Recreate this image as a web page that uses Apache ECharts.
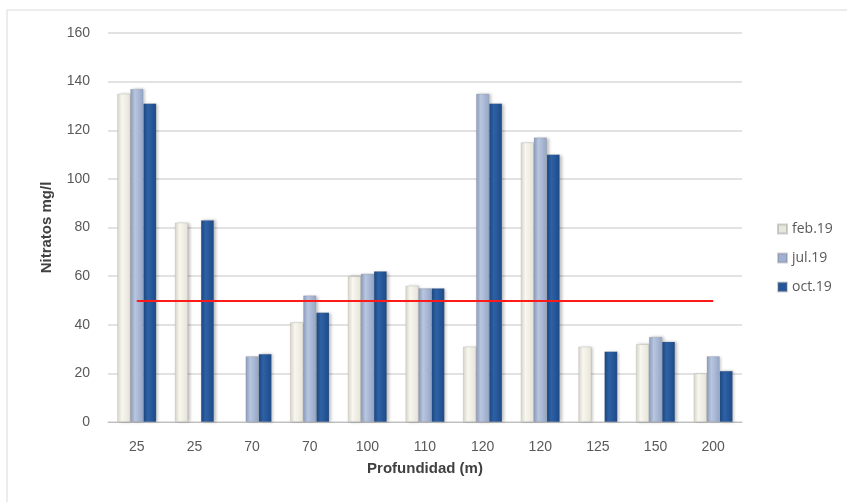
<!DOCTYPE html>
<html><head><meta charset="utf-8">
<script src="https://cdn.jsdelivr.net/npm/echarts@6/dist/echarts.min.js"></script>
<style>html,body{margin:0;padding:0;background:#fff}#c{width:847px;height:502px}</style>
</head><body><div id="c"></div>
<script>
const categories = ['25','25','70','70','100','110','120','120','125','150','200'];
const feb19 = [135, 82, null, 41, 60, 56, 31, 115, 31, 32, 20];
const jul19 = [137, null, 27, 52, 61, 55, 135, 117, null, 35, 27];
const oct19 = [131, 83, 28, 45, 62, 55, 131, 110, 29, 33, 21];
const limitValue = 50;
const seriesNames = ['feb.19','jul.19','oct.19'];
const yTitle = 'Nitratos mg/l';
const xTitle = 'Profundidad (m)';

function grad(a, b, c) {
  return new echarts.graphic.LinearGradient(0, 0, 1, 0, [
    {offset: 0, color: a}, {offset: 0.35, color: b}, {offset: 1, color: c}
  ]);
}
const colors = [
  grad('#d9d7c9', '#f8f7f0', '#e6e4d8'),
  grad('#8b9cbf', '#b9c6df', '#94a6c8'),
  grad('#1b4680', '#2e62a6', '#1d4a88')
];
const legendColors = ['#e8e7dc', '#9fb0d2', '#24549a'];

const chart = echarts.init(document.getElementById('c'), null, {renderer: 'canvas'});
const labelFont = "'Liberation Sans Narrow', 'Liberation Sans', sans-serif";
const mk = (name, data, i) => ({
  name, type: 'bar', data,
  barWidth: 13, barGap: '0%',
  itemStyle: {color: colors[i], borderColor: 'rgba(120,120,120,0.35)', borderWidth: 0.5,
    shadowColor: 'rgba(0,0,0,0.25)', shadowBlur: 3, shadowOffsetX: 2},
  emphasis: {disabled: true}
});
const series = [mk(seriesNames[0], feb19, 0), mk(seriesNames[1], jul19, 1), mk(seriesNames[2], oct19, 2)];
series.push({
  name: 'limite', type: 'line', data: [], silent: true,
  markLine: {
    silent: true, symbol: 'none', label: {show: false},
    lineStyle: {color: '#ff1a1a', width: 2, type: 'solid'},
    data: [[{coord: [0, limitValue]}, {coord: [categories.length - 1, limitValue]}]]
  }
});

chart.setOption({
  animation: false,
  graphic: [{type: 'rect', shape: {x: 7, y: 10, width: 860, height: 520},
    style: {fill: 'none', stroke: '#d9d9d9', lineWidth: 1}, z: -1}],
  grid: {left: 108, right: 105, top: 33, bottom: 80},
  legend: {
    orient: 'vertical', left: 772, top: 217, itemGap: 15,
    itemWidth: 9, itemHeight: 9, icon: 'rect',
    data: seriesNames.map((n, i) => ({name: n, itemStyle: {color: legendColors[i]}})),
    textStyle: {color: '#595959', fontSize: 14, fontFamily: "'Open Sans', sans-serif"}
  },
  xAxis: {
    type: 'category', data: categories,
    name: xTitle, nameLocation: 'middle', nameGap: 39,
    nameTextStyle: {fontWeight: 'bold', fontSize: 15, color: '#404040', fontFamily: "'Liberation Sans', sans-serif"},
    axisLine: {lineStyle: {color: '#bfbfbf', width: 1}},
    axisTick: {show: false},
    axisLabel: {color: '#595959', fontSize: 14, margin: 18, fontFamily: labelFont}
  },
  yAxis: {
    type: 'value', min: 0, max: 160, interval: 20,
    name: yTitle, nameLocation: 'middle', nameGap: 54, nameRotate: 90,
    nameTextStyle: {fontWeight: 'bold', fontSize: 15, color: '#404040', fontFamily: "'Liberation Sans', sans-serif"},
    axisLine: {show: false}, axisTick: {show: false},
    axisLabel: {color: '#595959', fontSize: 14, margin: 18, fontFamily: labelFont},
    splitLine: {lineStyle: {color: '#d9d9d9', width: 1.5}}
  },
  series
});
</script></body></html>
